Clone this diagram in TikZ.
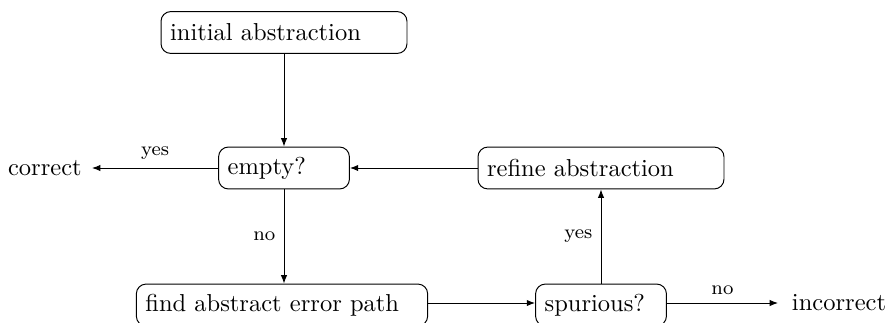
\documentclass[tikz,border=0pt]{standalone}
\usetikzlibrary{arrows.meta}
\begin{document}
\begin{tikzpicture}[x=0.40816pt, y=-0.40816pt,
  stepbox/.style={draw, rounded corners=4pt, inner xsep=3.7pt, inner ysep=0pt,
                  minimum height=17.1pt, align=left},
  flow/.style={-{Latex[length=3.4pt,width=2.6pt]}},
  lbl/.style={font=\footnotesize}]
  \useasboundingbox (0,0) rectangle (887,322);

  % boxes of the refinement loop
  \node[stepbox, text width=93pt]  (init)   at (284,32.5) {initial abstraction};
  \node[stepbox, text width=46pt]  (empty)  at (284,168) {empty?};
  \node[stepbox, text width=93pt]  (refine) at (601,168) {refine abstraction};
  \node[stepbox, text width=111.5pt] (find) at (282,305) {find abstract error path};
  \node[stepbox, text width=46pt]  (spur)   at (601,305) {spurious?};

  % verdicts
  \node[anchor=east, inner xsep=4pt] (correct) at (92,168) {correct};
  \node[anchor=west, inner xsep=5.5pt] (incorrect) at (778,303) {incorrect};

  % connectors
  \draw[flow] (init) -- (empty);
  \draw[flow] (empty) -- node[lbl, above] {yes} (correct);
  \draw[flow] (empty.south) -- node[lbl, left] {no} (empty.south |- find.north);
  \draw[flow] (find.east |- 0,303) -- (spur.west |- 0,303);
  \draw[flow] (spur.east |- 0,303) -- node[lbl, above] {no} (incorrect);
  \draw[flow] (spur.north) -- node[lbl, left] {yes} (spur.north |- refine.south);
  \draw[flow] (refine) -- (empty);
\end{tikzpicture}
\end{document}
